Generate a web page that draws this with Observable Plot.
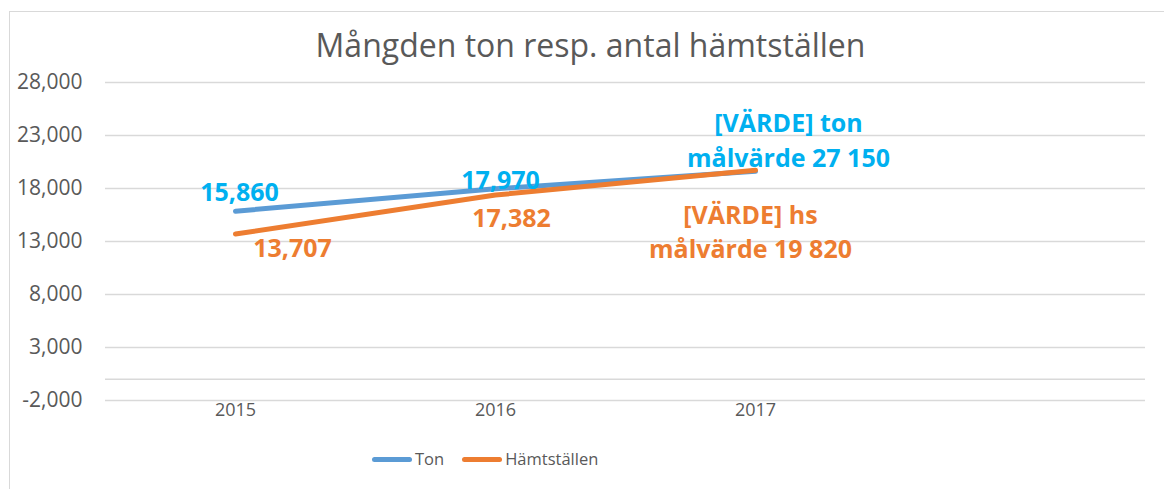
<!DOCTYPE html>
<html><head><meta charset="utf-8">
<script src="https://cdn.jsdelivr.net/npm/d3@7"></script>
<script src="https://cdn.jsdelivr.net/npm/@observablehq/plot@0.6"></script>
<style>
body{margin:0;background:#fff;}
#wrap{position:relative;width:1164px;height:489px;overflow:hidden;font-family:"Open Sans",sans-serif;color:#595959;}
#frame{position:absolute;left:9px;top:11px;width:1300px;height:700px;border-left:1.5px solid #d9d9d9;border-top:1.5px solid #d9d9d9;box-sizing:border-box;}
#chart{position:absolute;left:0;top:0;}
#title{position:absolute;left:0;top:29px;width:1181px;text-align:center;font-size:32px;line-height:32px;white-space:nowrap;}
#legend{position:absolute;left:372px;top:447px;height:24px;display:flex;align-items:center;font-size:16.5px;line-height:24px;white-space:nowrap;}
.sw{display:inline-block;width:40px;height:5px;border-radius:3px;margin-right:3px;}
.item{display:flex;align-items:center;margin-right:18px;}
</style>
</head><body>
<div id="wrap">
  <div id="frame"></div>
  <div id="chart"></div>
  <div id="title"></div>
  <div id="legend"></div>
</div>
<script>
const titleText = "Mångden ton resp. antal hämtställen";
const categories = ["2015", "2016", "2017", ""];
const years = ["2015", "2016", "2017"];
const tonValues = [15860, 17970, 19620];
const hsValues = [13707, 17382, 19720];
const seriesNames = ["Ton", "Hämtställen"];
const tonTargetLabel = "[VÄRDE] ton\nmålvärde 27 150";
const hsTargetLabel = "[VÄRDE] hs\nmålvärde 19 820";
const yTicks = [-2000, 3000, 8000, 13000, 18000, 23000, 28000];

const tonColor = "#5B9BD5", hsColor = "#ED7D31";
const tonLabelColor = "#00B0F0", hsLabelColor = "#ED7D31";

const ton = years.map((y, i) => ({year: y, value: tonValues[i]}));
const hs = years.map((y, i) => ({year: y, value: hsValues[i]}));
const fmt = d => d3.format(",")(d).replace("\u2212", "-");

const labelFont = {fontSize: 25, fontWeight: "bold", fontFamily: "Open Sans"};

const chart = Plot.plot({
  width: 1164,
  height: 489,
  marginLeft: 105,
  marginRight: 19,
  marginTop: 82,
  marginBottom: 89,
  style: {fontFamily: "Open Sans", color: "#595959", background: "transparent"},
  x: {type: "point", domain: categories, padding: 0.5},
  y: {domain: [-2000, 28000]},
  marks: [
    Plot.gridY(yTicks, {stroke: "#d9d9d9", strokeOpacity: 1, strokeWidth: 1.4}),
    Plot.ruleY([0], {stroke: "#d9d9d9", strokeWidth: 1.4}),
    Plot.axisY({ticks: yTicks, tickSize: 0, tickPadding: 23, tickFormat: fmt, fontSize: 21, label: null}),
    Plot.axisX({tickSize: 0, tickPadding: 3, fontSize: 18, label: null}),
    Plot.line(ton, {x: "year", y: "value", stroke: tonColor, strokeWidth: 5, strokeLinecap: "round"}),
    Plot.line(hs, {x: "year", y: "value", stroke: hsColor, strokeWidth: 5, strokeLinecap: "round"}),
    Plot.text(ton.slice(0, 1), {x: "year", y: "value", text: d => fmt(d.value), fill: tonLabelColor, dx: 4, dy: -18, ...labelFont}),
    Plot.text(ton.slice(1, 2), {x: "year", y: "value", text: d => fmt(d.value), fill: tonLabelColor, dx: 5, dy: -8, ...labelFont}),
    Plot.text(ton.slice(2, 3), {x: "year", y: "value", text: () => tonTargetLabel, fill: tonLabelColor, dx: 33, dy: -33, lineHeight: 1.4, ...labelFont}),
    Plot.text(hs.slice(0, 1), {x: "year", y: "value", text: d => fmt(d.value), fill: hsLabelColor, dx: 57, dy: 15, ...labelFont}),
    Plot.text(hs.slice(1, 2), {x: "year", y: "value", text: d => fmt(d.value), fill: hsLabelColor, dx: 16, dy: 24, ...labelFont}),
    Plot.text(hs.slice(2, 3), {x: "year", y: "value", text: () => hsTargetLabel, fill: hsLabelColor, dx: -5, dy: 60, lineHeight: 1.36, ...labelFont})
  ]
});
document.getElementById("chart").appendChild(chart);
document.getElementById("title").textContent = titleText;

const legend = document.getElementById("legend");
[[seriesNames[0], tonColor], [seriesNames[1], hsColor]].forEach(([name, color]) => {
  const item = document.createElement("span");
  item.className = "item";
  const sw = document.createElement("span");
  sw.className = "sw";
  sw.style.background = color;
  item.appendChild(sw);
  item.appendChild(document.createTextNode(name));
  legend.appendChild(item);
});
</script>
</body></html>
